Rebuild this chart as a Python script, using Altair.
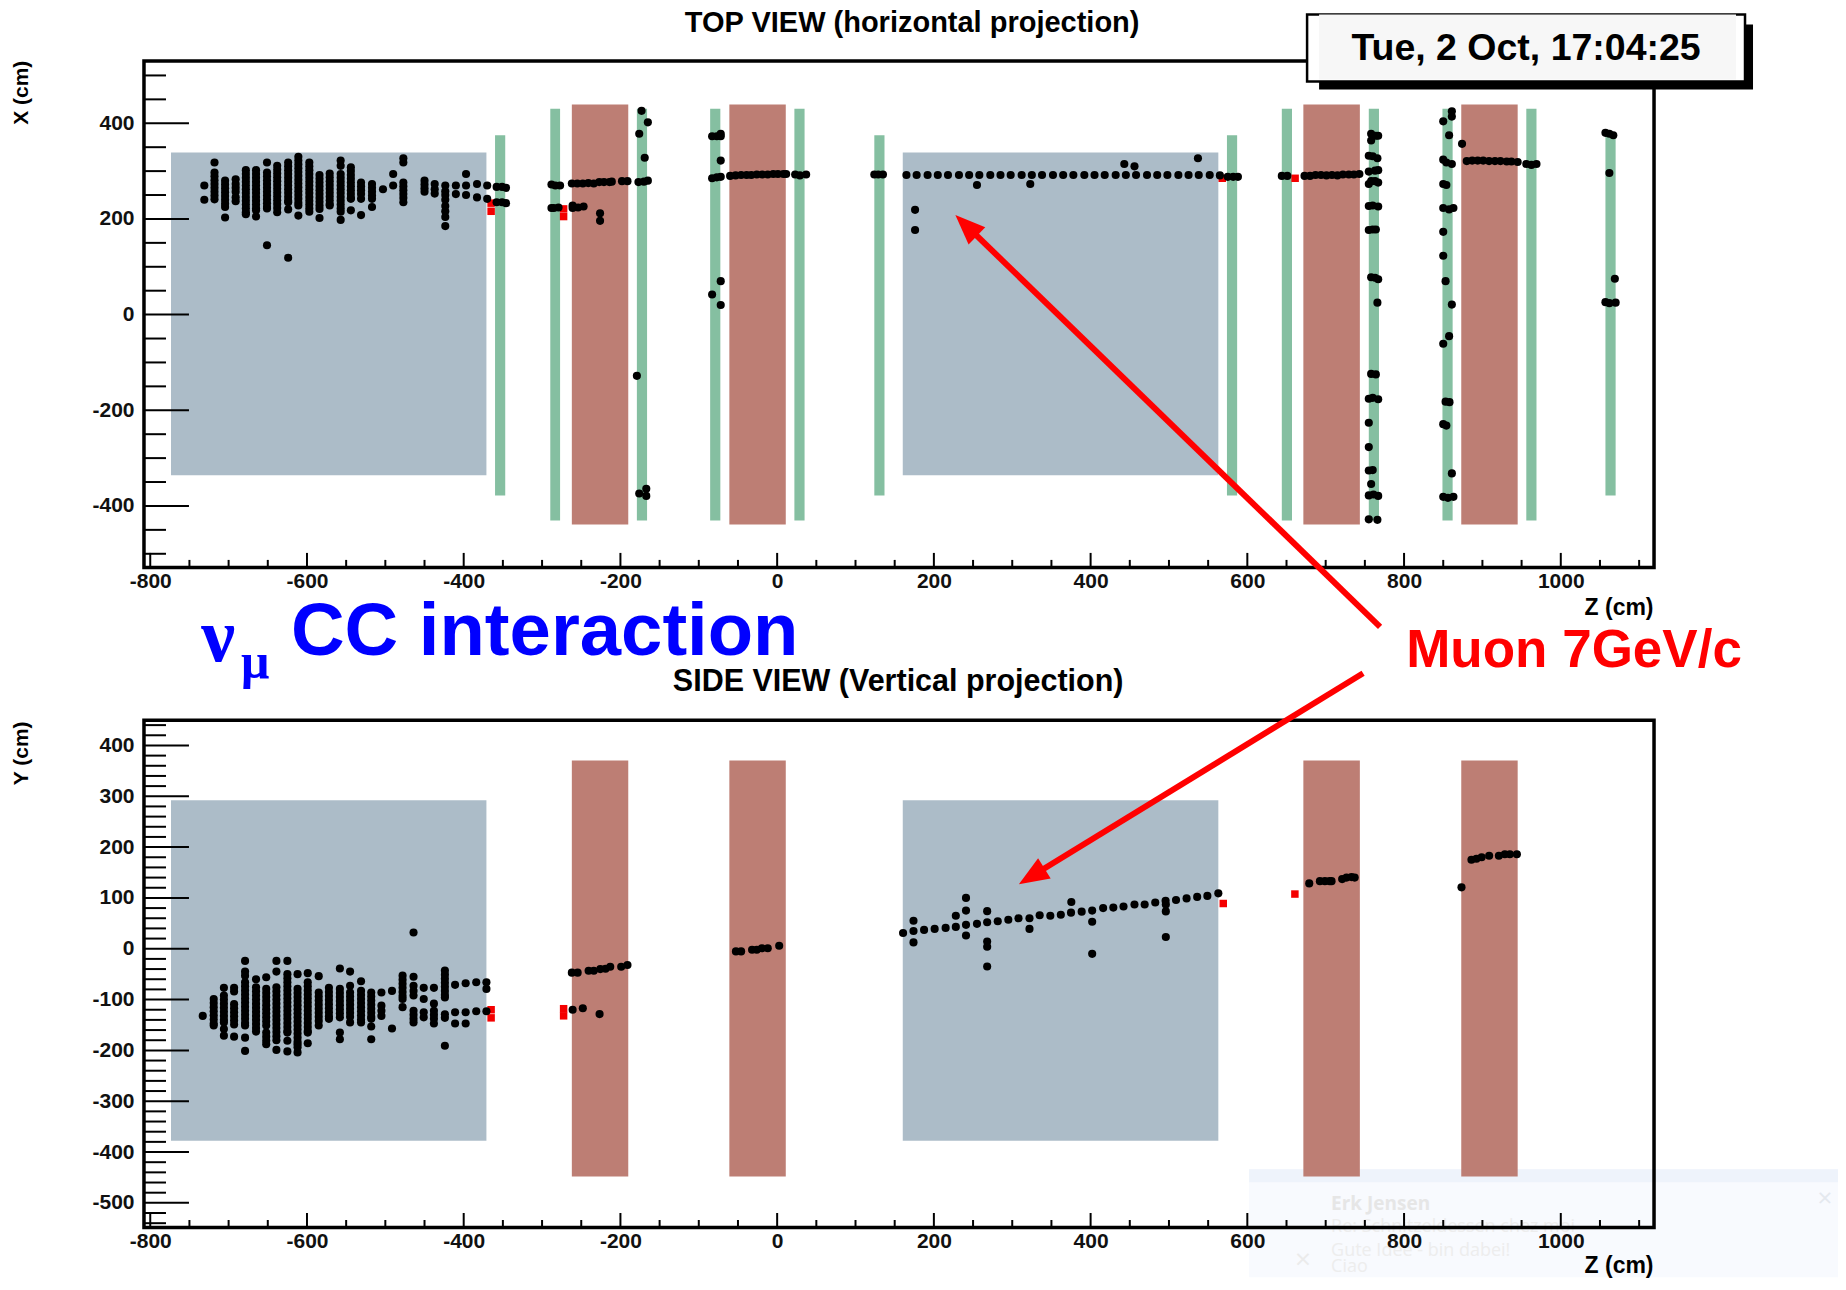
import altair as alt
import pandas as pd

# ---------- geometry (page pixels) ----------
PLOT_L, PLOT_R = 143.7, 1654.0
TOP_T, TOP_B = 60.3, 566.7
BOT_T, BOT_B = 719.0, 1226.3
W = PLOT_R - PLOT_L
H_TOP = TOP_B - TOP_T
H_BOT = BOT_B - BOT_T

Z_DOMAIN = [-808, 1119]
X_DOMAIN = [-528.5, 530]
Y_DOMAIN = [-548.5, 449.5]

# ---------- detector blocks (z from, z to, transverse half ranges) ----------
gray_z0 = [-773.5, 160.3]
gray_z1 = [-371, 563]
brown_z0 = [-262, -61, 671.5, 873]
brown_z1 = [-190, 11, 743.6, 945]
green_z0 = [-360, -289.5, -179, -85.5, 22, 124, 574, 644, 755, 849, 956, 1057]
green_z1 = [-347, -277, -166, -72.5, 35, 137, 587, 657, 768, 862, 969, 1070]
green_hi = [375, 430.5, 430.5, 430.5, 430.5, 375, 375, 430.5, 430.5, 430.5, 430.5, 375]
green_lo = [-378, -430.5, -430.5, -430.5, -430.5, -378, -378, -430.5, -430.5, -430.5, -430.5, -378]
top_gray_range = [-336, 339]
top_brown_range = [-439, 439.5]
bot_gray_range = [-378, 292]
bot_brown_range = [-448, 370.5]

# ---------- top view hits ----------
top_col_z = [-731, -718, -704.5, -691, -678, -665, -651, -638, -624, -611, -597, -584, -571, -557,
             -544, -531, -517, -503, -490, -477, -450, -437, -423.5, -410, -397, -383, -370,
             -358, -351, -346]
top_col_x = [
    [270, 240],
    [318, 297, 289, 281, 273, 265, 257, 249, 241],
    [280, 272, 264, 256, 248, 240, 232, 225, 203],
    [283, 273, 265, 257, 245, 237],
    [302, 294, 286, 278, 270, 262, 254, 246, 238, 230, 222, 214, 210],
    [302, 294, 286, 278, 270, 262, 254, 246, 238, 230, 222, 218, 205],
    [318, 297, 289, 281, 273, 265, 257, 249, 241, 233, 225, 222, 145],
    [311, 303, 295, 287, 279, 271, 263, 255, 247, 239, 231, 223, 214],
    [318, 310, 302, 294, 286, 278, 270, 262, 254, 246, 238, 235, 220, 119],
    [330, 322, 314, 306, 298, 290, 282, 274, 266, 258, 250, 242, 234, 228, 207],
    [318, 310, 302, 294, 286, 278, 270, 262, 254, 246, 238, 230, 222, 215],
    [292, 284, 276, 268, 260, 252, 244, 236, 228, 221, 202],
    [295, 287, 279, 271, 263, 255, 247, 239, 231, 228],
    [322, 311, 294, 286, 278, 270, 262, 254, 246, 238, 230, 222, 215, 198],
    [308, 300, 292, 284, 276, 268, 260, 252, 244, 242, 218],
    [276, 268, 260, 252, 242, 208],
    [273, 265, 257, 249, 242, 225],
    [262],
    [294, 270],
    [327, 318, 276, 268, 260, 252, 244, 235],
    [280, 272, 264, 257],
    [273, 262, 253],
    [270, 258, 250, 240, 227, 216, 204, 185],
    [270, 252],
    [294, 270, 250],
    [273, 245],
    [270, 242],
    [267, 235],
    [267, 235],
    [265, 233],
]
top_z = [-288, -283, -277, -288, -285, -279, -261, -261, -254, -247, -226, -226,
         -262, -255, -248, -241, -234, -227, -221, -214, -211, -198, -191,
         -177, -170, -165, -173, -165, -176, -169, -179, -176, -167, -167,
         -83, -77, -72, -72, -72, -83, -77, -72, -72, -83, -72,
         -60, -53, -46, -39, -33, -26, -19, -12, -5, 1, 8, 11.5,
         23, 29, 37, 124, 129, 135,
         165, 178, 192, 205, 218, 232, 245, 258, 272, 285, 298, 312, 325, 338, 352, 365, 378,
         392, 405, 418, 432, 445, 458, 472, 485, 498, 512, 525, 538, 552, 565,
         176, 176, 255, 323, 443, 456, 537, 575, 582, 588, 644, 651,
         673, 680, 687, 694, 701, 708, 715, 722, 729.5, 736, 743,
         758, 764, 767, 758, 755, 760, 766, 755, 763, 767, 755, 758, 763, 767,
         755, 760, 767, 755, 760, 764, 758, 763, 767, 766, 758, 764,
         755, 760, 767, 755, 755, 755, 760, 758, 755, 761, 767, 755, 766,
         861, 861, 850, 857.5, 850, 854, 861, 850, 854, 850, 857.5, 863,
         850, 850, 853, 861, 857.5, 850, 853, 858, 850, 854, 861, 850, 856, 863,
         874, 880, 887, 894, 901, 908.5, 916, 923, 931, 937, 945,
         956, 962.5, 969, 1057, 1062, 1067, 1062, 1069, 1057, 1062, 1070]
top_x = [272, 270, 270, 223, 223, 224, 228, 223, 224, 226, 212, 196,
         274, 274, 274, 275, 274, 277, 277, 277, 278, 279, 279,
         277, 278, 280, 426, 402, 378, 328, -128, -374, -364, -379,
         373, 373, 378, 373, 322, 285, 287, 288, 70, 42, 20,
         290, 291, 292, 292, 292, 293, 293, 293, 294, 294, 294, 294,
         293, 291, 293, 293, 293, 293,
         292, 292, 292, 292, 292, 292, 292, 292, 292, 292, 292, 292, 292, 292, 292, 292, 292,
         292, 292, 292, 292, 292, 292, 292, 292, 292, 292, 292, 292, 292, 291,
         219, 177, 271, 273, 315, 310, 327, 288, 288, 288, 290, 290,
         290, 290, 292, 292, 291, 292, 291, 293, 293, 293, 294,
         378, 374, 374, 364, 332, 331, 327, 299, 301, 302, 273, 279, 279, 276,
         227, 228, 226, 177, 178, 178, 78, 77, 74, 25, -124, -125,
         -176, -174, -177, -226, -277, -326, -325, -354, -378, -376, -379, -428, -429,
         425, 414, 404, 375, 324, 318, 315, 273, 271, 223, 220, 223,
         173, 123, 70, 21, -45, -61, -182, -183, -229, -232, -332, -381, -383, -381,
         357, 321, 322, 322, 322, 321, 321, 321, 320, 320, 319,
         315, 313, 315, 380, 378, 375, 296, 75, 26, 24, 25]
top_red_z = [-365, -365, -272.5, -272.5, 568, 661]
top_red_x = [233, 216, 221, 205, 285, 285]

# ---------- side view hits ----------
bot_col_z = [-733, -719, -706, -693, -679, -665, -652, -639, -625, -612, -599, -585, -572, -558,
             -545, -531, -518, -505, -491.5, -478, -464, -451, -438, -424, -411, -397.5, -384, -371]
bot_col_y = [
    [-132],
    [-99, -107, -115, -123, -131, -139, -147, -151],
    [-77, -92, -100, -108, -116, -124, -132, -140, -145, -158, -171],
    [-77, -84, -109, -117, -125, -133, -141, -149, -173],
    [-24, -45, -53, -66, -74, -82, -90, -98, -106, -114, -122, -130, -138, -146, -151, -175, -201],
    [-60, -76, -84, -92, -100, -108, -116, -124, -132, -140, -148, -156, -163],
    [-56, -79, -87, -95, -103, -111, -119, -127, -135, -143, -151, -165, -173, -181, -188],
    [-24, -45, -76, -84, -92, -100, -108, -116, -124, -132, -140, -148, -156, -164, -172, -180, -199],
    [-24, -50, -58, -66, -74, -82, -90, -98, -106, -114, -122, -130, -138, -146, -154, -162, -165, -181, -202],
    [-50, -79, -87, -95, -103, -111, -119, -127, -135, -143, -151, -159, -167, -175, -183, -188, -194, -204],
    [-48, -66, -74, -82, -90, -98, -106, -114, -122, -130, -138, -146, -154, -162, -165, -186],
    [-54, -86, -94, -102, -110, -118, -126, -134, -142, -151],
    [-77, -85, -93, -101, -109, -117, -125, -133, -138],
    [-39, -79, -87, -95, -103, -111, -119, -127, -135, -165, -178],
    [-45, -73, -86, -94, -102, -110, -118, -126, -134, -145],
    [-64, -83, -91, -99, -107, -115, -123, -131, -139, -145],
    [-86, -94, -102, -110, -118, -126, -134, -138, -153, -178],
    [-86, -112, -122, -132],
    [-83, -157],
    [-53, -61, -69, -77, -85, -93, -99, -115],
    [32, -55, -73, -83, -92, -122, -130, -138, -145],
    [-77, -99, -125, -135],
    [-77, -108, -122, -130, -138, -147],
    [-43, -51, -59, -67, -75, -83, -91, -96, -129, -136, -191],
    [-71, -125, -147],
    [-68, -125, -147],
    [-66, -123],
    [-66, -79, -123],
]
bot_z = [-262, -254.6, -240.6, -234, -225.7, -219, -213, -199, -191, -261, -248, -226.6,
         -52.6, -46, -32, -26, -19.5, -12, 2.6,
         160.7, 174, 174, 174, 187.5, 201, 215, 228, 228, 241, 241, 241, 241, 255, 268, 268, 268, 268, 268,
         281.5, 295, 308, 322, 322, 335, 348.6, 362, 375.4, 375, 388.6, 402, 402, 402,
         416, 429, 442, 456, 469, 482.5, 495.7, 496, 496, 496, 509, 522.5, 536, 549, 563,
         679, 692.6, 699, 705, 707.5, 721, 726.6, 733, 737,
         873.3, 886, 892.4, 899, 908.6, 921, 928.6, 935, 944]
bot_y = [-47, -47, -43.3, -43.3, -40, -39.4, -35.5, -35.5, -32, -120, -117, -128.6,
         -5.3, -5.3, -2, -2, 1, 1, 5.9,
         31, 55, 35, 12.5, 37, 39, 41, 43, 65, 100, 75, 47, 26, 49, 74, 52, 14, 4, -35,
         54, 57, 60, 60, 39, 66, 65, 67, 92, 71, 73, 75, 53, -10,
         80, 81, 83, 87, 87, 91, 94.5, 87, 73.5, 23, 96, 99, 102, 104, 109,
         128.6, 133, 133, 133, 133, 137, 140, 141, 140,
         120.8, 175, 177, 180, 183, 183, 186, 186, 186]
bot_red_z = [-365, -365, -272.5, -272.5, 569.3, 660.7]
bot_red_y = [-120, -136, -118, -132, 89, 107.6]

# ---------- axes ----------
z_labels = [-800, -600, -400, -200, 0, 200, 400, 600, 800, 1000]
z_minor = [-750, -700, -650, -550, -500, -450, -350, -300, -250, -150, -100, -50, 50, 100, 150,
           250, 300, 350, 450, 500, 550, 650, 700, 750, 850, 900, 950, 1050, 1100]
x_labels = [-400, -200, 0, 200, 400]
x_minor = [-500, -450, -350, -300, -250, -150, -100, -50, 50, 100, 150, 250, 300, 350, 450, 500]
y_labels = [-500, -400, -300, -200, -100, 0, 100, 200, 300, 400]
y_minor = [-540, -520, -480, -460, -440, -420, -380, -360, -340, -320, -280, -260, -240, -220,
           -180, -160, -140, -120, -80, -60, -40, -20, 20, 40, 60, 80, 120, 140, 160, 180,
           220, 240, 260, 280, 320, 340, 360, 380, 420, 440]

GRAY, BROWN, GREEN, RED = "#ACBCC8", "#BD7E74", "#85BFA1", "#F40000"
LABEL_FONT = "Liberation Sans"


def explode(zs, cols):
    rows = []
    for z, vs in zip(zs, cols):
        for v in vs:
            rows.append({"z": z, "v": v})
    return rows


def panel(h, v_domain, v_labels, v_minor, gray_rng, brown_rng, show_green, hits, reds, extra_before=None, extra_after=None):
    zs = alt.Scale(domain=Z_DOMAIN, nice=False, zero=False)
    vs = alt.Scale(domain=v_domain, nice=False, zero=False)
    rects = []
    for a, b in zip(gray_z0, gray_z1):
        rects.append({"z0": a, "z1": b, "v0": gray_rng[0], "v1": gray_rng[1], "c": GRAY})
    for a, b in zip(brown_z0, brown_z1):
        rects.append({"z0": a, "z1": b, "v0": brown_rng[0], "v1": brown_rng[1], "c": BROWN})
    if show_green:
        for a, b, lo, hi in zip(green_z0, green_z1, green_lo, green_hi):
            rects.append({"z0": a, "z1": b, "v0": lo, "v1": hi, "c": GREEN})
    ax_x = alt.Axis(values=z_labels, ticks=False, domain=False, grid=False, title=None,
                    labelExpr="'' + datum.value",
                    labelFont=LABEL_FONT, labelFontSize=21, labelFontWeight="bold", labelColor="#111111",
                    labelPadding=3, labelOverlap=False, zindex=1)
    ax_y = alt.Axis(values=v_labels, ticks=False, domain=False, grid=False, title=None,
                    labelExpr="'' + datum.value",
                    labelFont=LABEL_FONT, labelFontSize=21, labelFontWeight="bold", labelColor="#111111",
                    labelPadding=10, labelOverlap=False, zindex=1)
    blocks = alt.Chart(pd.DataFrame(rects)).mark_rect().encode(
        x=alt.X("z0:Q", scale=zs, axis=ax_x), x2="z1:Q",
        y=alt.Y("v0:Q", scale=vs, axis=ax_y), y2="v1:Q",
        color=alt.Color("c:N", scale=None, legend=None))
    dots = alt.Chart(pd.DataFrame(hits)).mark_circle(size=66, color="black", opacity=1).encode(
        x=alt.X("z:Q", scale=zs, axis=ax_x), y=alt.Y("v:Q", scale=vs, axis=ax_y))
    red = alt.Chart(pd.DataFrame(reds)).mark_square(size=56, color=RED, opacity=1).encode(
        x=alt.X("z:Q", scale=zs, axis=ax_x), y=alt.Y("v:Q", scale=vs, axis=ax_y))
    ticks = []
    for vals, ln in ((v_labels, 45), (v_minor, 22)):
        ticks.append(alt.Chart(pd.DataFrame({"v": vals})).mark_rule(color="black", strokeWidth=2).encode(
            y=alt.Y("v:Q", scale=vs, axis=ax_y), x=alt.value(0), x2=alt.value(ln)))
    for vals, ln in ((z_labels, 14.5), (z_minor, 7.5)):
        ticks.append(alt.Chart(pd.DataFrame({"z": vals})).mark_rule(color="black", strokeWidth=2).encode(
            x=alt.X("z:Q", scale=zs, axis=ax_x), y=alt.value(h), y2=alt.value(h - ln)))
    frame = alt.Chart(pd.DataFrame({"a": [0]})).mark_rect(fillOpacity=0, stroke="black", strokeWidth=3.5).encode(
        x=alt.value(0), x2=alt.value(W), y=alt.value(0), y2=alt.value(h))
    layers = (extra_before or []) + [blocks, red, dots] + ticks + [frame] + (extra_after or [])
    return alt.layer(*layers).properties(width=W, height=h)


# ---------- helpers for annotations placed in page pixels ----------
def txt(text, px, py, ox, oy, size, color="black", font=LABEL_FONT, weight="bold", align="center", angle=None):
    kw = dict(align=align, baseline="middle", font=font, fontSize=size, fontWeight=weight, color=color)
    if angle is not None:
        kw["angle"] = angle
    return alt.Chart(pd.DataFrame({"t": [text]})).mark_text(**kw).encode(
        x=alt.value(px - ox), y=alt.value(py - oy), text="t:N")


def box(x0, y0, x1, y1, ox, oy, **kw):
    return alt.Chart(pd.DataFrame({"a": [0]})).mark_rect(**kw).encode(
        x=alt.value(x0 - ox), x2=alt.value(x1 - ox), y=alt.value(y0 - oy), y2=alt.value(y1 - oy))


def seg(x0, y0, x1, y1, ox, oy, **kw):
    return alt.Chart(pd.DataFrame({"a": [0]})).mark_rule(**kw).encode(
        x=alt.value(x0 - ox), x2=alt.value(x1 - ox), y=alt.value(y0 - oy), y2=alt.value(y1 - oy))


def head(px, py, ang, ox, oy):
    return alt.Chart(pd.DataFrame({"a": [0]})).mark_point(
        shape="M0,-1L0.8,1L-0.8,1Z", filled=True, color="#FF0000", opacity=1, angle=ang, size=900,
        strokeWidth=0).encode(x=alt.value(px - ox), y=alt.value(py - oy))


OT = (PLOT_L, TOP_T)
OB = (PLOT_L, BOT_T)

top_before = [box(8, 8, 9, 9, *OT, color="white")]
top_after = [
    txt("TOP VIEW (horizontal projection)", 912, 22.5, *OT, 29),
    txt("X (cm)", 22, 92, *OT, 21, angle=270),
    txt("Z (cm)", 1619, 607, *OT, 23),
    txt("ν", 218, 637.5, *OT, 76, color="#0000FF", font="Liberation Serif"),
    txt("μ", 255, 662, *OT, 50, color="#0000FF", font="Liberation Serif"),
    txt("CC interaction", 544.5, 632.5, *OT, 74.3, color="#0000FF"),
    txt("SIDE VIEW (Vertical projection)", 898, 681.5, *OT, 30.5),
]

popup_fill = "#F8FAFE"
bot_before = [
    box(1249, 1168, 1838, 1276, *OB, color=popup_fill),
    box(1249, 1168, 1838, 1181, *OB, color="#EEF3FB"),
    txt("Erk Jensen", 1331, 1203, *OB, 19, color="#E6E6E6", font="Open Sans", align="left"),
    txt("Re: Schnitzeldessen chez moi", 1331, 1226, *OB, 18, color="#EDEDED", font="Open Sans", weight="normal", align="left"),
    txt("Gute Idee - bin dabei!", 1331, 1250, *OB, 18, color="#EDEDED", font="Open Sans", weight="normal", align="left"),
    txt("Ciao", 1331, 1266, *OB, 18, color="#EDEDED", font="Open Sans", weight="normal", align="left"),
    txt("×", 1825, 1198, *OB, 26, color="#E4E8EE", font="Open Sans", weight="normal"),
    txt("×", 1303, 1260, *OB, 28, color="#EBEBEB", font="Open Sans", weight="normal"),
]
bot_after = [
    txt("Y (cm)", 22, 752, *OB, 21, angle=270),
    txt("Z (cm)", 1619, 1265, *OB, 23),
    seg(1380, 625.5, 966, 224, *OB, color="#FF0000", strokeWidth=6),
    head(966, 224, 314, *OB),
    seg(1363, 672, 1031.5, 875, *OB, color="#FF0000", strokeWidth=6),
    head(1031.5, 875, 238.3, *OB),
    txt("Muon 7GeV/c", 1574, 650, *OB, 53, color="#FF0000"),
    box(1319, 23, 1753, 88, *OB, color="black"),
    box(1307, 13, 1745, 80, *OB, color="white", stroke="black", strokeWidth=2.5),
    box(1319, 13, 1736, 78, *OB, color="#F7F7F7"),
    txt("Tue, 2 Oct, 17:04:25", 1526, 47.5, *OB, 37.5),
]

top_hits = explode(top_col_z, top_col_x) + [{"z": a, "v": b} for a, b in zip(top_z, top_x)]
top_reds = [{"z": a, "v": b} for a, b in zip(top_red_z, top_red_x)]
bot_hits = explode(bot_col_z, bot_col_y) + [{"z": a, "v": b} for a, b in zip(bot_z, bot_y)]
bot_reds = [{"z": a, "v": b} for a, b in zip(bot_red_z, bot_red_y)]

top = panel(H_TOP, X_DOMAIN, x_labels, x_minor, top_gray_range, top_brown_range, True,
            top_hits, top_reds, top_before, top_after)
bottom = panel(H_BOT, Y_DOMAIN, y_labels, y_minor, bot_gray_range, bot_brown_range, False,
               bot_hits, bot_reds, bot_before, bot_after)

chart = alt.vconcat(top, bottom, spacing=BOT_T - TOP_B, bounds="flush").properties(
    padding=0, background="white"
).configure_view(strokeWidth=0)

chart.save("out.html", embed_options={"renderer": "svg", "actions": False})
